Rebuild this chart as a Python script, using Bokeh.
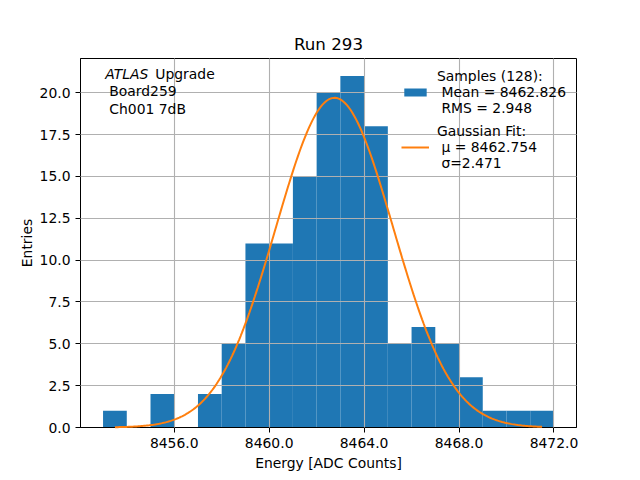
import numpy as np

from bokeh.models import Range1d, FixedTicker, Label, Legend, LegendItem
from bokeh.plotting import figure
from bokeh.embed import file_html
from bokeh.resources import INLINE

# histogram of the samples (bin width 1 ADC count)
bin_edges = [8453, 8454, 8455, 8456, 8457, 8458, 8459, 8460, 8461, 8462,
             8463, 8464, 8465, 8466, 8467, 8468, 8469, 8470, 8471, 8472]
counts = [1, 0, 2, 0, 2, 5, 11, 11, 15, 20, 21, 18, 5, 6, 5, 3, 1, 1, 1]

# gaussian fit parameters
fit_mu = 8462.754
fit_sigma = 2.471
fit_amp = 19.7

NB = "\u00a0"
sample_label = "Samples (128):\n" + NB + "Mean = 8462.826\n" + NB + "RMS = 2.948"
fit_label = "Gaussian Fit:\n" + NB + "\u03bc = 8462.754\n" + NB + "\u03c3=2.471"

x_ticks = [8456, 8460, 8464, 8468, 8472]
x_tick_labels = ["8456.0", "8460.0", "8464.0", "8468.0", "8472.0"]
y_ticks = [0, 2.5, 5, 7.5, 10, 12.5, 15, 17.5, 20]
y_tick_labels = ["0.0", "2.5", "5.0", "7.5", "10.0", "12.5", "15.0", "17.5", "20.0"]

FONT = "DejaVu Sans"
FS = "13.9px"

# matplotlib style 5% margins
span = bin_edges[-1] - bin_edges[0]
x0, x1 = bin_edges[0] - 0.05 * span, bin_edges[-1] + 0.05 * span
y1 = max(counts) * 1.05

p = figure(width=640, height=480, output_backend="svg", toolbar_location=None,
           x_range=Range1d(x0, x1), y_range=Range1d(0, y1),
           min_border_left=80, min_border_right=64, min_border_top=58, min_border_bottom=53)

p.title.text = "Run 293"
p.title.align = "center"
p.title.text_font = FONT
p.title.text_font_size = "16.7px"
p.title.text_font_style = "normal"
p.title.text_color = "black"

bars = p.quad(left=bin_edges[:-1], right=bin_edges[1:], top=counts, bottom=0,
              fill_color="#1f77b4", line_color=None)

# fitted curve over the range of bin centres
centres = [(a + b) / 2 for a, b in zip(bin_edges[:-1], bin_edges[1:])]
xs = np.linspace(centres[0], centres[-1], 300)
ys = fit_amp * np.exp(-0.5 * ((xs - fit_mu) / fit_sigma) ** 2)
curve = p.line(xs, ys, line_color="#ff7f0e", line_width=2)
curve.level = "overlay"

# axes
p.xaxis.ticker = FixedTicker(ticks=x_ticks)
p.yaxis.ticker = FixedTicker(ticks=y_ticks)
p.xaxis.major_label_overrides = dict(zip(x_ticks, x_tick_labels))
p.yaxis.major_label_overrides = dict(zip(y_ticks, y_tick_labels))
p.xaxis.axis_label = "Energy [ADC Counts]"
p.yaxis.axis_label = "Entries"
for ax in (p.xaxis, p.yaxis):
    ax.axis_label_text_font = FONT
    ax.axis_label_text_font_size = FS
    ax.axis_label_text_font_style = "normal"
    ax.axis_label_text_color = "black"
    ax.major_label_text_font = FONT
    ax.major_label_text_font_size = FS
    ax.major_label_text_color = "black"
    ax.major_tick_in = 0
    ax.major_tick_out = 5
    ax.minor_tick_line_color = None
    ax.axis_line_color = "black"
    ax.major_tick_line_color = "black"
p.xaxis.axis_label_standoff = 4
p.yaxis.axis_label_standoff = 2
p.yaxis.major_label_orientation = "horizontal"

p.outline_line_color = "black"
p.outline_line_alpha = 1
p.xgrid.ticker = FixedTicker(ticks=x_ticks)
p.ygrid.ticker = FixedTicker(ticks=y_ticks)
p.grid.grid_line_color = "#b0b0b0"
p.grid.grid_line_width = 1.1
p.grid.level = "guide"

# experiment text, placed in axes fraction
tx = x0 + 0.05 * (x1 - x0)
ty = 0.97 * y1
p.add_layout(Label(x=tx, y=ty, y_offset=4, text="ATLAS", text_font=FONT, text_font_size=FS,
                   text_font_style="italic", text_baseline="top", text_color="black"))
p.add_layout(Label(x=tx, y=ty, x_offset=50, y_offset=4, text="Upgrade", text_font=FONT,
                   text_font_size=FS, text_baseline="top", text_color="black"))
p.add_layout(Label(x=tx, y=ty, x_offset=4, y_offset=-13, text="Board259\nCh001 7dB",
                   text_font=FONT, text_font_size=FS, text_baseline="top",
                   text_line_height=1.15, text_color="black"))

legend = Legend(items=[LegendItem(label=sample_label, renderers=[bars]),
                       LegendItem(label=fit_label, renderers=[curve])],
                location="top_right")
legend.border_line_color = None
legend.background_fill_alpha = 0
legend.label_text_font = FONT
legend.label_text_font_size = FS
legend.label_text_color = "black"
legend.label_text_line_height = 1.27
legend.glyph_width = 28
legend.glyph_height = 10
legend.label_standoff = 8
legend.margin = 10
legend.padding = 4
legend.spacing = 7
p.add_layout(legend)

open("out.html", "w").write(file_html(p, INLINE))
